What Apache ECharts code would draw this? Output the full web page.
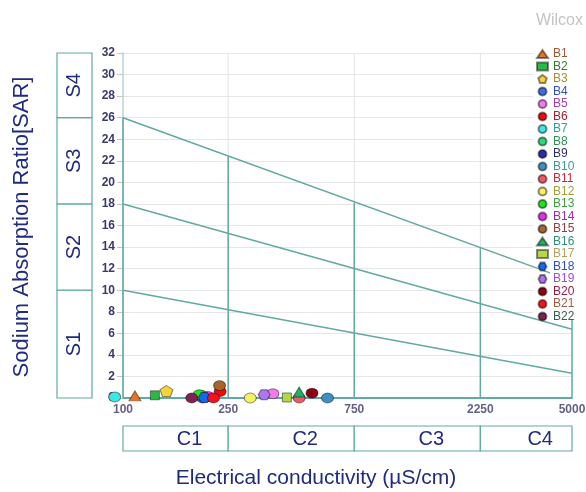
<!DOCTYPE html>
<html><head><meta charset="utf-8">
<script src="https://cdn.jsdelivr.net/npm/echarts@6/dist/echarts.min.js"></script>
<style>html,body{margin:0;padding:0;background:#fff}#c{width:586px;height:492px}</style>
</head><body><div id="c"></div>
<script>
// ---- data ----
const sampleNames = ['B1','B2','B3','B4','B5','B6','B7','B8','B9','B10','B11','B12','B13','B14','B15','B16','B17','B18','B19','B20','B21','B22'];
const ecValues  = [111, 132, 146, 200, 369, 233, 93, 198, 207, 594, 464, 303, 194, 210, 232, 464, 417, 203, 342, 519, 220, 182];
const sarValues = [0.2, 0.25, 0.65, 0, 0.4, 0.6, 0.1, 0.25, 0.1, 0, 0, 0, 0.3, 0.15, 1.15, 0.55, 0.05, 0.05, 0.3, 0.45, 0, 0];
const xTickValues = [100, 250, 750, 2250, 5000];
const classBoundsEC = [100, 250, 750, 2250, 5000];
const classTopSAR = [26, 22.43, 18.1, 13.9, 10.86];
const hazardStartSAR = [26, 18, 10];     // at EC = 100
const hazardEndSAR = [10.86, 6.37, 2.29]; // at EC = 5000
const sClasses = ['S1','S2','S3','S4'];
const sBounds = [0, 10, 18, 26, 32];
const cClasses = ['C1','C2','C3','C4'];

// ---- styles ----
const pent = 'path://M50,0 L97.6,34.5 L79.4,90.5 L20.6,90.5 L2.4,34.5 Z';
const hexa = 'path://M25,0 L75,0 L100,50 L75,100 L25,100 L0,50 Z';
const symbols = ['triangle','rect',pent,'circle','circle','circle','circle','circle','circle','circle','circle','circle','circle','circle','circle','triangle','rect',hexa,hexa,'circle','circle','circle'];
const fills = ['#e8731f','#2fb84a','#f7d23a','#3b6fe0','#f57af2','#ee0a0a','#3fe6e6','#2ed67a','#2a2aa8','#3d8fc4','#f2566a','#f5f062','#22e022','#e62ee6','#a5652e','#1fb066','#b6d645','#1468f0','#b074f2','#8e0016','#f0141e','#7e2252'];
const legendText = ['#9a5a3a','#2e7d32','#a39232','#3050c0','#a040a8','#a02030','#30a0a0','#309050','#303060','#3a9a9a','#c03040','#a0a040','#40a040','#a030a0','#904040','#309080','#b0a060','#3050c0','#a050d0','#902040','#a06040','#306050'];
const teal = '#62a9a1';
const navy = '#1f2a80';
const FONT = 'Liberation Sans';

function symSize(s){ if (s==='rect') return [9,9]; if (s===pent) return [13,11]; return [12,10]; }

const series = [];
// light gray vertical grid lines
[250,750,2250].forEach(ec => series.push({type:'line', data:[[ec,0],[ec,32]], symbol:'none', silent:true, clip:false, z:1, lineStyle:{color:'#e3e3e3', width:1}, animation:false}));
// class boundary verticals
classBoundsEC.forEach((ec,i) => series.push({type:'line', data:[[ec,0],[ec,classTopSAR[i]]], symbol:'none', silent:true, clip:false, lineStyle:{color:teal, width:1.5}, animation:false}));
// hazard lines
hazardStartSAR.forEach((s,i) => series.push({type:'line', data:[[100,s],[5000,hazardEndSAR[i]]], symbol:'none', silent:true, clip:false, lineStyle:{color:teal, width:1.5}, animation:false}));
// S boxes
series.push({type:'custom', silent:true, clip:false, animation:false,
  data: sClasses.map((n,i)=>[100, sBounds[i], sBounds[i+1]]),
  encode:{x:0, y:1},
  renderItem:(params, api) => {
    const lo = api.coord([100, api.value(1)]), hi = api.coord([100, api.value(2)]);
    return {type:'group', children:[
      {type:'rect', shape:{x:57, y:hi[1], width:35, height:lo[1]-hi[1]}, style:{fill:'#fff', stroke:teal, lineWidth:1.2}},
      {type:'text', x:74.5, y:(lo[1]+hi[1])/2, rotation:Math.PI/2, style:{text:sClasses[params.dataIndex], fill:navy, fontSize:20, fontFamily:FONT, align:'center', verticalAlign:'middle'}}
    ]};
  }});
// C boxes
series.push({type:'custom', silent:true, clip:false, animation:false,
  data: cClasses.map((n,i)=>[classBoundsEC[i], classBoundsEC[i+1], 0]),
  encode:{x:[0,1], y:2},
  renderItem:(params, api) => {
    const a = api.coord([api.value(0), api.value(2)]), b = api.coord([api.value(1), api.value(2)]);
    return {type:'group', children:[
      {type:'rect', shape:{x:a[0], y:a[1]+28, width:b[0]-a[0], height:25}, style:{fill:'#fff', stroke:teal, lineWidth:1.2}},
      {type:'text', x:(a[0]+b[0])/2+14, y:a[1]+41, style:{text:cClasses[params.dataIndex], fill:navy, fontSize:20, fontFamily:FONT, align:'center', verticalAlign:'middle'}}
    ]};
  }});
// x tick labels at the class limits
series.push({type:'scatter', data:xTickValues.map(v=>[v,0]), symbolSize:0.1, silent:true, clip:false, itemStyle:{color:'transparent'}, animation:false,
  label:{show:true, position:'bottom', distance:6, formatter:p=>String(p.value[0]), color:'#3a3a6a', fontWeight:'bold', fontSize:12, fontFamily:FONT}});
// samples
sampleNames.forEach((n,i) => series.push({type:'scatter', name:n, data:[[ecValues[i], sarValues[i]]], symbol:symbols[i], symbolSize:symSize(symbols[i]), clip:false, z:5,
  itemStyle:{color:fills[i], borderColor:'rgba(0,0,0,0.45)', borderWidth:1, opacity:1}, animation:false}));

const chart = echarts.init(document.getElementById('c'));
chart.setOption({
  animation:false,
  title:{text:'Wilcox', right:3, top:13, padding:0, textStyle:{color:'#c4c4c4', fontSize:16, fontWeight:'normal', fontFamily:FONT}},
  grid:{left:123, right:14, top:53, bottom:94, containLabel:false, outerBoundsMode:'none'},
  xAxis:{type:'log', logBase:10, min:100, max:5000, axisLabel:{show:false}, axisTick:{show:false}, splitLine:{show:false}, minorSplitLine:{show:false},
    axisLine:{show:true, lineStyle:{color:teal, width:2}}},
  yAxis:{type:'value', min:0, max:32, interval:2,
    axisLine:{show:true, lineStyle:{color:'#b5d6d2', width:1.5}},
    axisTick:{show:true, length:6, lineStyle:{color:'#c4c4c4'}},
    axisLabel:{margin:8, color:'#3a3a6a', fontWeight:'bold', fontSize:12, fontFamily:FONT},
    splitLine:{show:true, lineStyle:{color:'#e6e6e6'}}},
  legend:{orient:'vertical', left:536, top:48, padding:0, itemWidth:11, itemHeight:8, itemGap:0.5, selectedMode:false, z:6,
    textStyle:{fontSize:12, lineHeight:12, fontFamily:FONT},
    data:sampleNames.map((n,i)=>({name:n, textStyle:{color:legendText[i]}}))},
  graphic:[
    {type:'rect', shape:{x:533, y:46, width:53, height:274}, style:{fill:'#fff'}, z:1, silent:true},
    {type:'rect', shape:{x:550, y:46, width:36, height:274}, style:{fill:'#fff'}, z:4, silent:true},
    {type:'text', x:316, y:478, style:{text:'Electrical conductivity (µS/cm)', fill:navy, fontSize:21, fontFamily:FONT, align:'center', verticalAlign:'middle'}, silent:true},
    {type:'text', x:22, y:227, rotation:Math.PI/2, style:{text:'Sodium Absorption Ratio[SAR]', fill:navy, fontSize:22, fontFamily:FONT, align:'center', verticalAlign:'middle'}, silent:true}
  ],
  series
});
</script></body></html>
